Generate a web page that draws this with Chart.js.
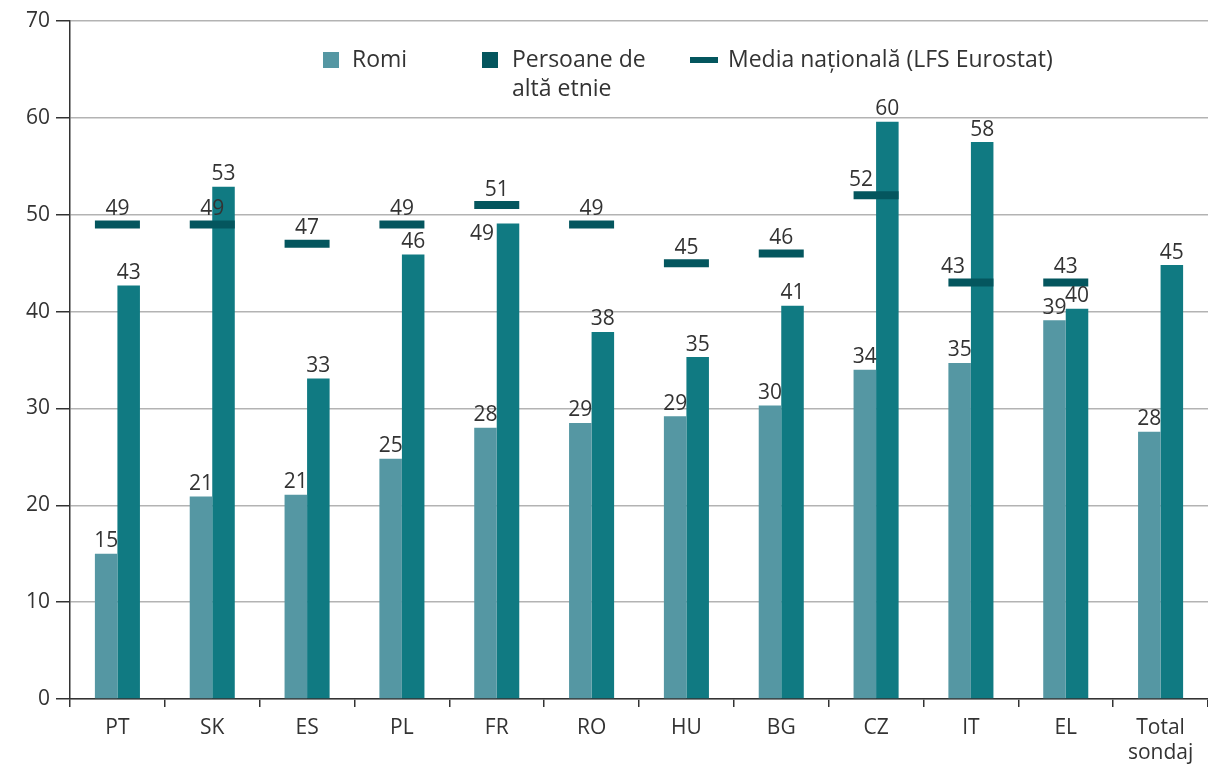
<!DOCTYPE html>
<html>
<head>
<meta charset="utf-8">
<script src="https://cdn.jsdelivr.net/npm/chart.js@4/dist/chart.umd.min.js"></script>
<style>
  html, body { margin: 0; padding: 0; background: #fff; }
  #wrap { position: relative; width: 1208px; height: 767px; }
  #legend { position: absolute; top: 44px; left: 322px; font-family: "Open Sans", sans-serif; font-size: 23px; color: #333; }
  .item { position: absolute; white-space: nowrap; line-height: 29px; }
  .sw { position: absolute; }
</style>
</head>
<body>
<div id="wrap">
  <canvas id="chart" width="1208" height="767"></canvas>
  <div id="legend"></div>
</div>
<script>
// categories and values
var categories = ["PT", "SK", "ES", "PL", "FR", "RO", "HU", "BG", "CZ", "IT", "EL", ["Total", "sondaj"]];
var romi = [15.0, 20.9, 21.1, 24.8, 28.0, 28.5, 29.2, 30.3, 34.0, 34.7, 39.1, 27.6];
var altaEtnie = [42.7, 52.9, 33.1, 45.9, 49.1, 37.9, 35.3, 40.6, 59.6, 57.5, 40.3, 44.8];
var mediaNationala = [49, 49, 47, 49, 51, 49, 45, 46, 52, 43, 43, null];
var yTicks = [0, 10, 20, 30, 40, 50, 60, 70];

var colRomi = "#5597a3";
var colAlta = "#107a82";
var colMedia = "#04565e";

// legend
var legend = document.getElementById("legend");
legend.innerHTML =
	'<div class="sw" style="left:1px;top:8px;width:16px;height:16px;background:' + colRomi + '"></div>' +
	'<div class="item" style="left:30px;top:0">Romi</div>' +
	'<div class="sw" style="left:160px;top:8px;width:16px;height:16px;background:' + colMedia + '"></div>' +
	'<div class="item" style="left:190px;top:0">Persoane de<br>altă etnie</div>' +
	'<div class="sw" style="left:368px;top:13px;width:28px;height:6px;background:' + colMedia + '"></div>' +
	'<div class="item" style="left:406px;top:0">Media națională (LFS Eurostat)</div>';

// small nudges for labels that sit beside their mark in the original
var labelNudge = {
	"1-4": [-26, 23],
	"2-8": [-15, 0],
	"2-9": [-18, 0]
};

var valueLabels = {
	id: "valueLabels",
	afterDatasetsDraw: function(chart) {
		var ctx = chart.ctx;
		ctx.save();
		ctx.font = "21px 'Open Sans', sans-serif";
		ctx.fillStyle = "#333";
		ctx.textAlign = "center";
		ctx.textBaseline = "bottom";
		chart.data.datasets.forEach(function(ds, di) {
			var meta = chart.getDatasetMeta(di);
			meta.data.forEach(function(el, i) {
				var v = ds.data[i];
				if (v == null) return;
				var n = labelNudge[di + "-" + i] || [0, 0];
				var off = di == 2 ? 5 : 2;
				ctx.fillText(Math.round(v), el.x + n[0], el.y - off + n[1]);
			});
		});
		ctx.restore();
	}
};

var ctx = document.getElementById("chart").getContext("2d");
window.myChart = new Chart(ctx, {
	type: 'bar',
	data: {
		labels: categories,
		datasets: [
			{
				label: "Romi",
				backgroundColor: colRomi,
				data: romi,
				categoryPercentage: 0.475,
				barPercentage: 1,
				order: 1
			},
			{
				label: "Persoane de altă etnie",
				backgroundColor: colAlta,
				data: altaEtnie,
				categoryPercentage: 0.475,
				barPercentage: 1,
				order: 1
			},
			{
				type: 'line',
				label: "Media națională (LFS Eurostat)",
				data: mediaNationala,
				showLine: false,
				pointStyle: 'line',
				pointRadius: 22.5,
				borderWidth: 8,
				borderColor: colMedia,
				backgroundColor: colMedia,
				order: 0
			}
		]
	},
	options: {
		responsive: false,
		animation: false,
		events: [],
		layout: { autoPadding: false, padding: { top: 21, right: 0, left: 0, bottom: 0 } },
		plugins: {
			legend: { display: false },
			tooltip: { enabled: false },
			title: { display: false }
		},
		scales: {
			x: {
				offset: true,
				grid: {
					offset: true,
					drawOnChartArea: false,
					tickLength: 8,
					tickColor: "#333",
					lineWidth: 1.5
				},
				border: { color: "#333", width: 1.5 },
				ticks: {
					font: { family: "'Open Sans', sans-serif", size: 21 },
					color: "#333",
					padding: 8,
					maxRotation: 0
				},
				afterFit: function(scale) { scale.height = 68; }
			},
			y: {
				min: 0,
				max: 70,
				afterBuildTicks: function(scale) {
					scale.ticks = yTicks.map(function(v) { return { value: v }; });
				},
				grid: {
					color: "#b3b3b3",
					lineWidth: 1.5,
					tickLength: 14,
					tickColor: "#333"
				},
				border: { color: "#333", width: 1.5 },
				ticks: {
					font: { family: "'Open Sans', sans-serif", size: 21 },
					color: "#333",
					padding: 6
				},
				afterFit: function(scale) { scale.width = 70; }
			}
		}
	},
	plugins: [valueLabels]
});
</script>
</body>
</html>
